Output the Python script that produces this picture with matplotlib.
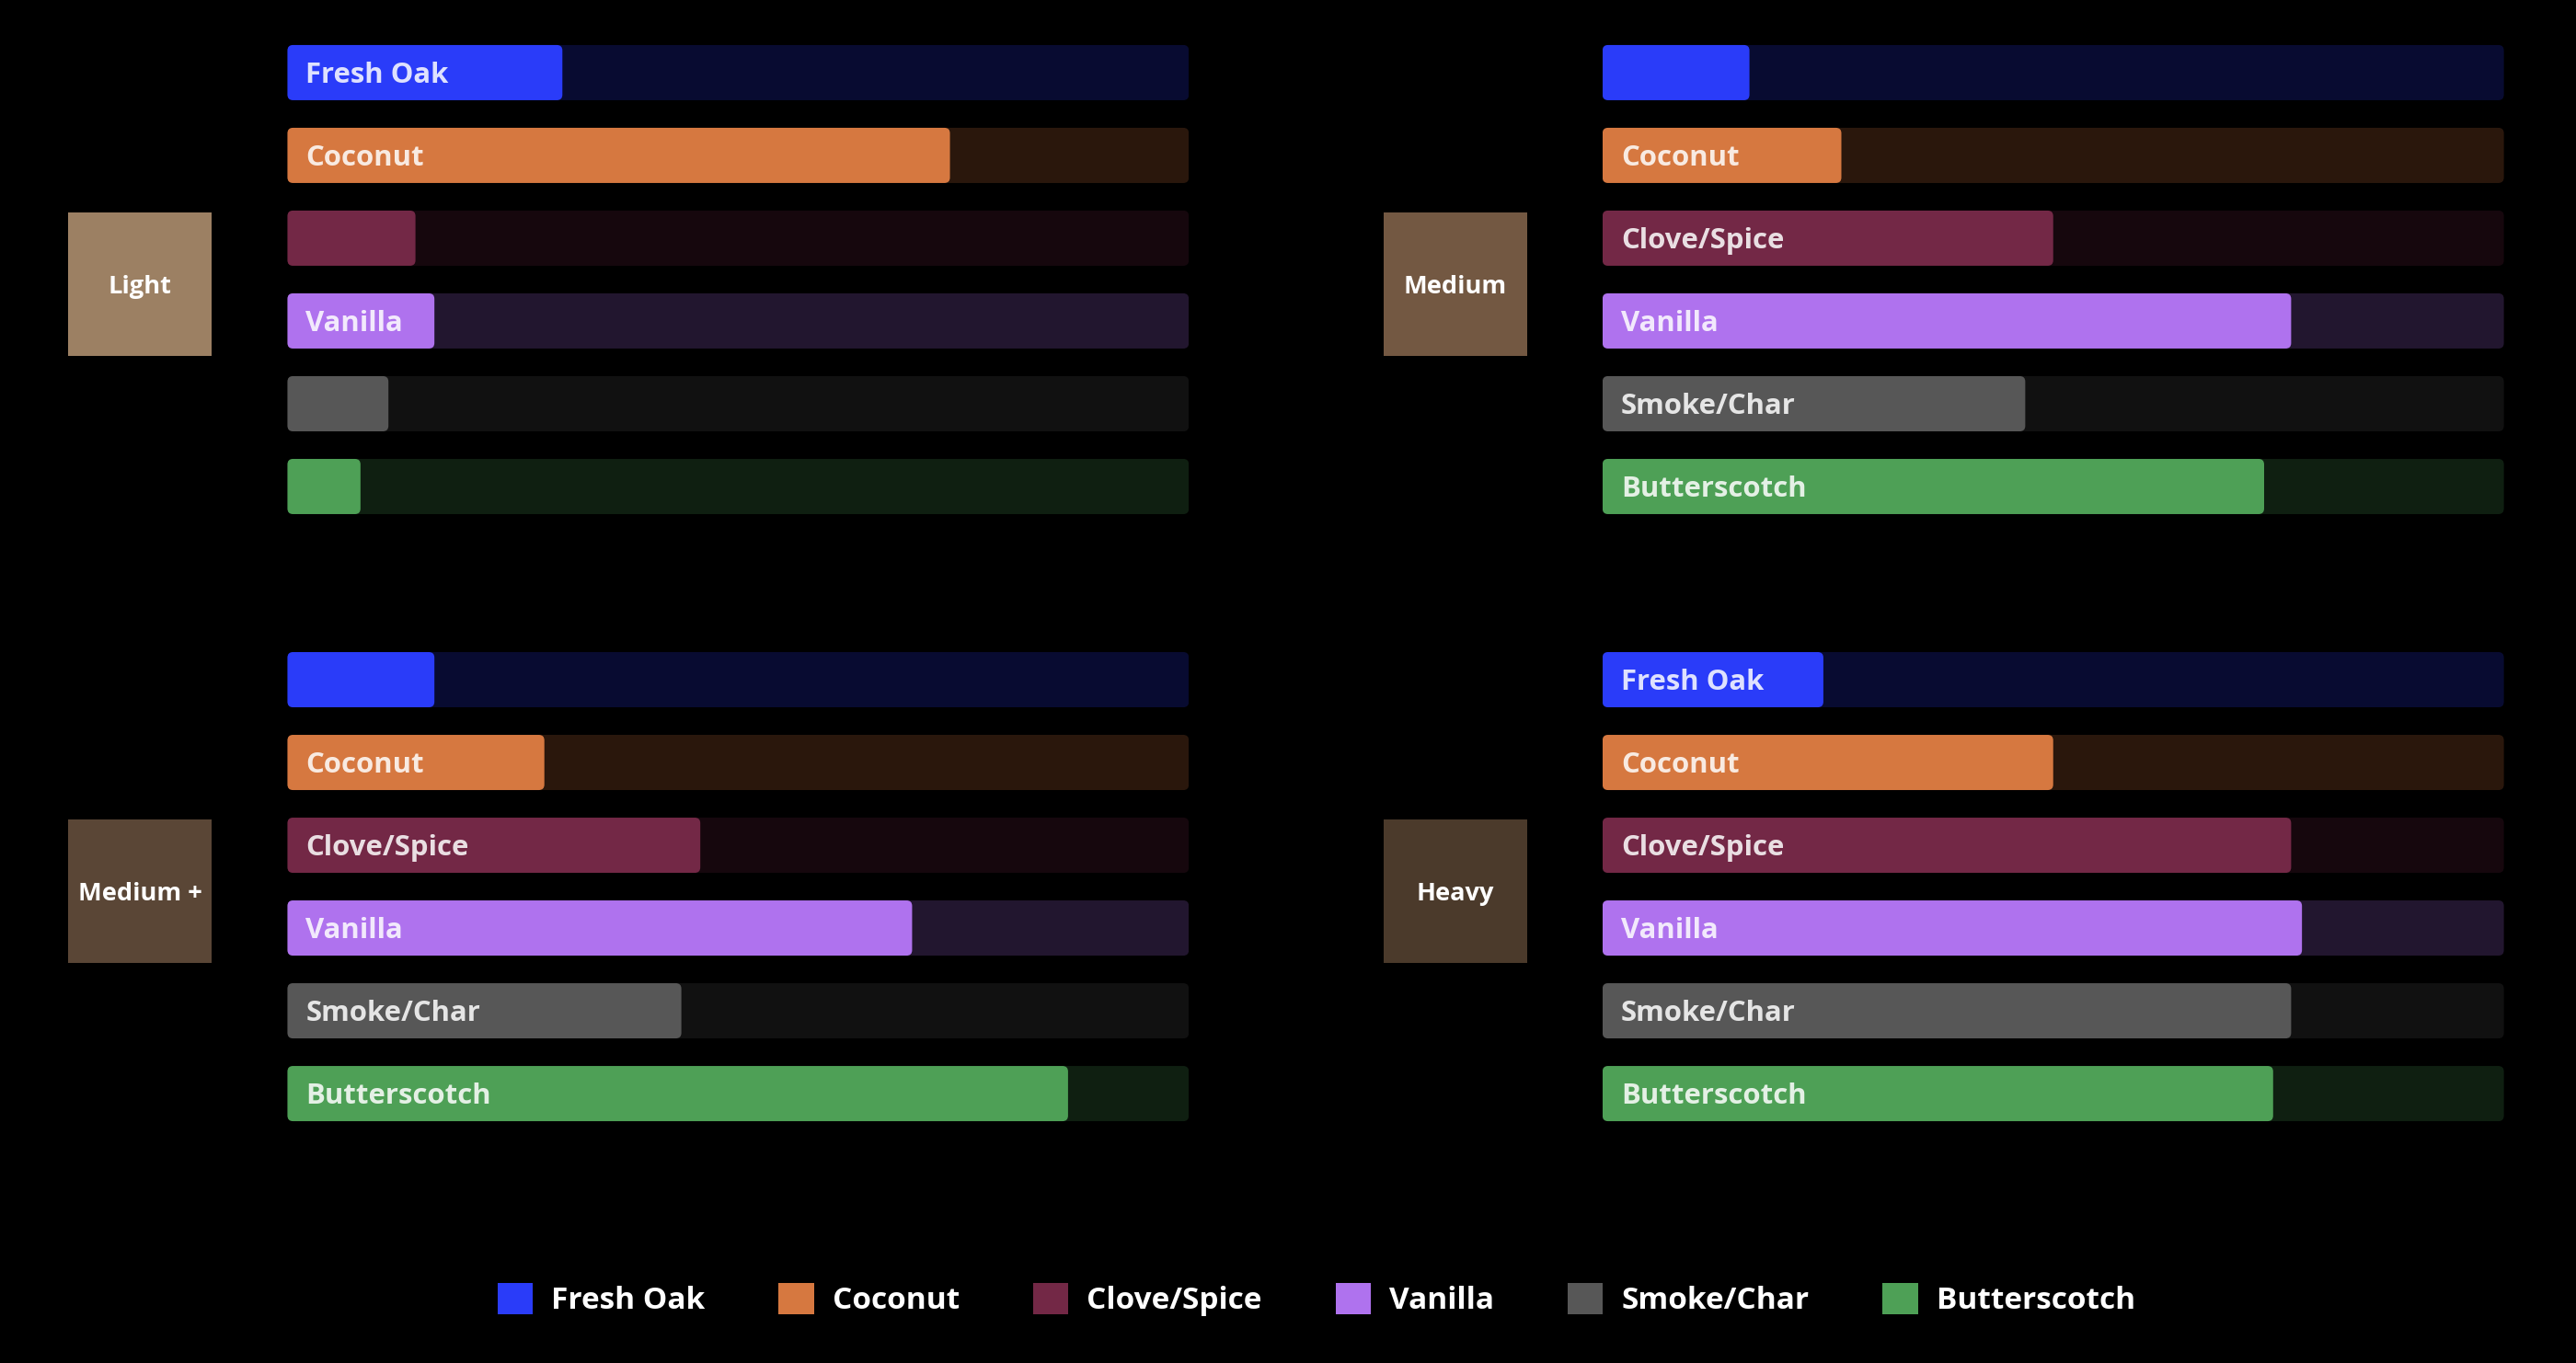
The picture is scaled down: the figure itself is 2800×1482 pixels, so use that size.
import numpy as np
import matplotlib.pyplot as plt
from matplotlib.patches import FancyBboxPatch, Patch

plt.rcParams['font.family'] = ['Open Sans', 'DejaVu Sans']

# flavour notes per toast level (0-100 intensity)
levels = ['Light', 'Medium', 'Medium +', 'Heavy']
notes = ['Fresh Oak', 'Coconut', 'Clove/Spice', 'Vanilla', 'Smoke/Char', 'Butterscotch']
light = [30.5, 73.5, 14.2, 16.3, 11.2, 8.1]
medium = [16.3, 26.5, 50.0, 76.4, 46.9, 73.4]
medium_plus = [16.3, 28.5, 45.8, 69.3, 43.7, 86.6]
heavy = [24.5, 50.0, 76.4, 77.6, 76.4, 74.4]

note_colors = ['#2A3CF9', '#D67840', '#732846', '#AF72EE', '#575757', '#4EA056']
level_colors = ['#9C8063', '#735842', '#5A4636', '#4B3A2B']

W, H = 2800, 1482
fig = plt.figure(figsize=(W / 200, H / 200), dpi=200, facecolor='black')

# (bars left, bars bottom, box left, box bottom) in figure fractions
layout = [(0.1116, 0.6127, 0.0264, 0.7389),
          (0.6221, 0.6127, 0.5371, 0.7389),
          (0.1116, 0.1673, 0.0264, 0.2935),
          (0.6221, 0.1673, 0.5371, 0.2935)]
bar_w, bar_h = 0.3499, 0.3644
box_w, box_h = 0.0557, 0.1053

labels_to_check = []

for level, vals, lcol, (bx, by, kx, ky) in zip(levels, [light, medium, medium_plus, heavy],
                                              level_colors, layout):
    ax = fig.add_axes([bx, by, bar_w, bar_h])
    ax.set_xlim(0, 100)
    ax.set_ylim(len(notes) - 0.5, -0.5)
    ax.axis('off')

    px_x = bar_w * W / 100
    px_y = bar_h * H / len(notes)
    aspect = px_x / px_y
    r = 6 / px_x
    hgt = 60 / px_y

    for i, (note, val, col) in enumerate(zip(notes, vals, note_colors)):
        track = FancyBboxPatch((0, i - hgt / 2), 100, hgt,
                               boxstyle=f'round,pad=0,rounding_size={r}',
                               mutation_aspect=aspect, fc=col, alpha=0.2, ec='none')
        ax.add_patch(track)
        bar = FancyBboxPatch((0, i - hgt / 2), val, hgt,
                             boxstyle=f'round,pad=0,rounding_size={r}',
                             mutation_aspect=aspect, fc=col, ec='none')
        ax.add_patch(bar)
        t = ax.annotate(note, xy=(0, i), xytext=(7.2, -4.0), textcoords='offset points',
                        va='baseline', ha='left', fontsize=11.2, fontweight='bold',
                        color='white', alpha=0.85)
        labels_to_check.append((t, ax, val, i))

    bax = fig.add_axes([kx, ky, box_w, box_h])
    bax.set_facecolor(lcol)
    bax.set_xticks([])
    bax.set_yticks([])
    for s in bax.spines.values():
        s.set_visible(False)
    bax.annotate(level, xy=(0.5, 0.5), xycoords='axes fraction', xytext=(0, -3.5),
                 textcoords='offset points', ha='center', va='baseline', color='white',
                 fontsize=9.8, fontweight='bold')

# hide labels that don't fit inside their bar
fig.canvas.draw()
renderer = fig.canvas.get_renderer()
for t, ax, val, i in labels_to_check:
    ext = t.get_window_extent(renderer)
    right = ax.transData.transform((val, i))[0]
    if ext.x1 + 10 > right:
        t.set_visible(False)

handles = [Patch(facecolor=c, edgecolor='none') for c in note_colors]
fig.legend(handles, notes, loc='center', bbox_to_anchor=(0.511, 0.0466), ncol=6,
           frameon=False, handlelength=1.15, handleheight=1.2, handletextpad=0.6,
           columnspacing=2.4, labelcolor='white',
           prop={'weight': 'bold', 'size': 12})

fig.savefig('out.png', dpi=200, facecolor='black')
